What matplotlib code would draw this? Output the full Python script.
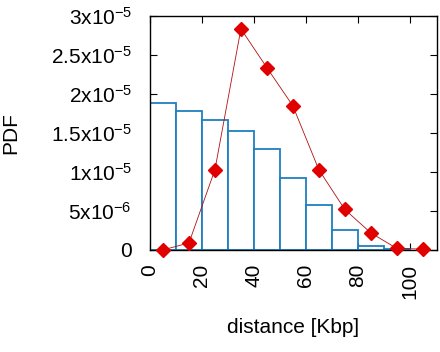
import matplotlib
matplotlib.use("Agg")
import matplotlib.pyplot as plt

# histogram bins (Kbp) and PDF values
bin_left = [0, 10, 20, 30, 40, 50, 60, 70, 80, 90]
bin_pdf = [1.886e-5, 1.779e-5, 1.663e-5, 1.530e-5, 1.299e-5,
           0.926e-5, 0.579e-5, 0.249e-5, 0.051e-5, 0.013e-5]

# second distribution (red diamonds)
pt_x = [5, 15, 25, 35, 45, 55, 65, 75, 85, 95, 105]
pt_pdf = [0.0, 0.09e-5, 1.029e-5, 2.833e-5, 2.336e-5, 1.847e-5,
          1.029e-5, 0.519e-5, 0.219e-5, 0.02e-5, 0.01e-5]

y_ticks = [0, 0.5e-5, 1e-5, 1.5e-5, 2e-5, 2.5e-5, 3e-5]
y_labels = ["0", r"$\mathregular{5x10^{-6}}$", r"$\mathregular{1x10^{-5}}$",
            r"$\mathregular{1.5x10^{-5}}$", r"$\mathregular{2x10^{-5}}$",
            r"$\mathregular{2.5x10^{-5}}$", r"$\mathregular{3x10^{-5}}$"]
x_ticks = [0, 20, 40, 60, 80, 100]

plt.rcParams["font.family"] = ["Liberation Sans", "DejaVu Sans"]

fig = plt.figure(figsize=(4.4, 3.52), dpi=100)
ax = fig.add_axes([0.341, 0.29, 0.652, 0.665])

ax.bar(bin_left, bin_pdf, width=10, align="edge", facecolor="white",
       edgecolor="#1f7fbf", linewidth=1.3, zorder=2)
ax.plot(pt_x, pt_pdf, color="#b01010", linewidth=0.6, marker="D",
        markersize=7, markerfacecolor="#e00000", markeredgecolor="#e00000",
        zorder=3, clip_on=False)

ax.set_xlim(0, 110.5)
ax.set_ylim(0, 3e-5)
ax.set_xticks(x_ticks)
ax.set_xticklabels([str(v) for v in x_ticks], rotation=90, fontsize=15)
ax.set_yticks(y_ticks)
ax.set_yticklabels(y_labels, fontsize=15)
ax.tick_params(direction="in", top=True, right=True, length=5, width=0.8)
ax.tick_params(axis="y", pad=13)
ax.tick_params(axis="x", pad=10)

ax.set_xlabel("distance [Kbp]", fontsize=15, labelpad=14)
ax.set_ylabel("PDF", fontsize=15, labelpad=22)
for s in ax.spines.values():
    s.set_linewidth(1.0)

fig.savefig("out.png", dpi=100)
